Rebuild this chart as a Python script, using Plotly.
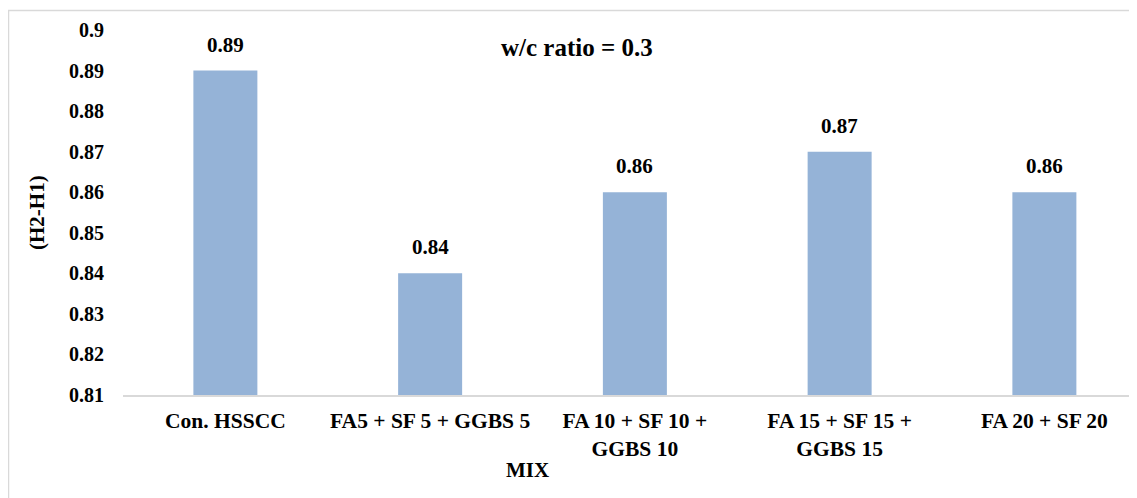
import plotly.graph_objects as go

categories = ["Con. HSSCC", "FA5 + SF 5 + GGBS 5", "FA 10 + SF 10 +<br>GGBS 10",
              "FA 15 + SF 15 +<br>GGBS 15", "FA 20 + SF 20"]
values = [0.89, 0.84, 0.86, 0.87, 0.86]
value_labels = ["0.89", "0.84", "0.86", "0.87", "0.86"]
y_ticks = [0.81, 0.82, 0.83, 0.84, 0.85, 0.86, 0.87, 0.88, 0.89, 0.90]
y_tick_labels = ["0.81", "0.82", "0.83", "0.84", "0.85", "0.86", "0.87", "0.88", "0.89", "0.9"]

FONT = "Liberation Serif, Times New Roman, serif"
OFF = 8  # page body margin
W, H = 1137 - OFF, 498 - OFF
# plot area in page pixel coordinates (chart is cropped on the right)
PL, PR, PT, PB = 123, 1137, 30, 395
CAT_W = 204.75  # pixel width of one category
ML, MR, MT, MB = PL - OFF, W - (PR - OFF), PT - OFF, H - (PB - OFF)
PW, PH = PR - PL, PB - PT
x_range = [-0.5, -0.5 + PW / CAT_W]

def px_x(p):
    return (p - PL) / PW

def px_y(p):
    return (PB - p) / PH

fig = go.Figure()
fig.add_trace(go.Bar(x=categories, y=values, marker=dict(color="#95B3D7", line=dict(width=0)),
                     hoverinfo="skip", cliponaxis=False))

annotations = []
for c, v, t in zip(categories, values, value_labels):
    annotations.append(dict(x=c, y=v, xref="x", yref="y", text="<b>%s</b>" % t, showarrow=False,
                            yanchor="bottom", yshift=12, font=dict(family=FONT, size=21, color="black")))
annotations.append(dict(x=px_x(577), y=px_y(47), xref="paper", yref="paper", xanchor="center", yanchor="middle",
                        text="<b>w/c ratio = 0.3</b>", showarrow=False,
                        font=dict(family=FONT, size=25, color="black")))
annotations.append(dict(x=px_x(37), y=px_y(213), xref="paper", yref="paper", xanchor="center", yanchor="middle",
                        text="<b>(H2-H1)</b>", showarrow=False, textangle=-90,
                        font=dict(family=FONT, size=21, color="black")))
annotations.append(dict(x=px_x(527), y=px_y(470), xref="paper", yref="paper", xanchor="center", yanchor="middle",
                        text="<b>MIX</b>", showarrow=False,
                        font=dict(family=FONT, size=21, color="black")))

fig.update_layout(
    width=W, height=H,
    margin=dict(l=ML, r=MR, t=MT, b=MB, pad=0),
    paper_bgcolor="white", plot_bgcolor="white",
    bargap=1 - 64 / CAT_W,
    showlegend=False,
    font=dict(family=FONT, size=20, color="black"),
    annotations=annotations,
    shapes=[dict(type="rect", xref="paper", yref="paper",
                 x0=px_x(8.5), x1=px_x(1160), y0=px_y(10.5), y1=px_y(520),
                 line=dict(color="#D9D9D9", width=1.5), fillcolor="rgba(0,0,0,0)", layer="below")],
)
fig.update_xaxes(range=x_range, showline=True, linecolor="#D9D9D9", linewidth=2, showgrid=False,
                 tickfont=dict(family=FONT, size=21.5, color="black"),
                 ticklabelstandoff=5, tickprefix="<b>", ticksuffix="</b>")
fig.update_yaxes(range=[0.81, 0.90], showline=False, showgrid=False, zeroline=False,
                 tickvals=y_ticks, ticktext=["<b>%s</b>" % t for t in y_tick_labels],
                 tickfont=dict(family=FONT, size=20, color="black"),
                 ticklabelstandoff=18)

fig.write_html("out.html")
